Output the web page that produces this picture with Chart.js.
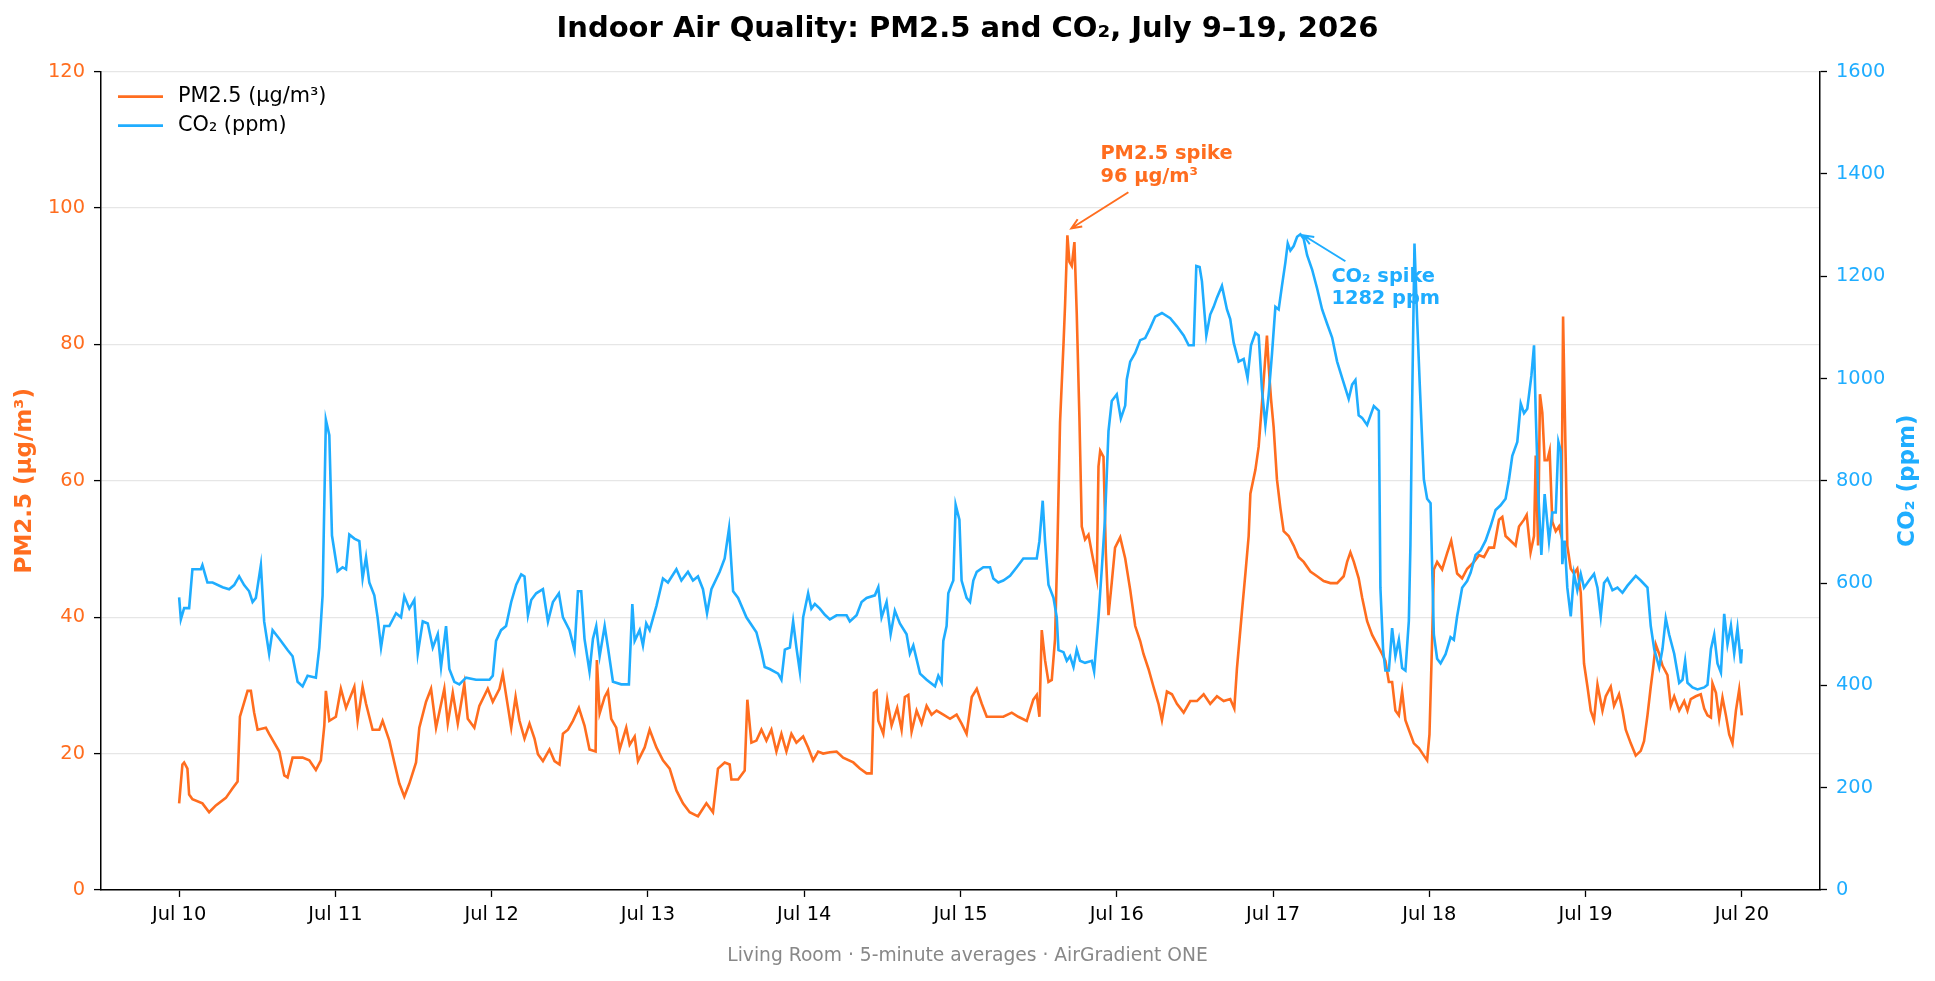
<!DOCTYPE html>
<html>
<head>
<meta charset="utf-8">
<script src="https://cdn.jsdelivr.net/npm/chart.js@4.4.1/dist/chart.umd.min.js"></script>
<style>
  html, body { margin: 0; padding: 0; background: #fff; }
  #c { display: block; }
</style>
</head>
<body>
<canvas id="c" width="1935" height="981" style="width:1935px;height:981px"></canvas>
<script>
// time in days since Jul 10 00:00, 5-minute data
const pmDays = [
  0, 0.021, 0.032, 0.053, 0.064, 0.085, 0.149, 0.192, 0.235, 0.299, 0.342, 0.374, 0.389, 0.438, 0.459, 0.480, 0.502, 0.555, 0.576, 0.641, 0.673, 0.694, 0.726, 0.790, 0.833, 0.875, 0.907, 0.929, 0.939, 0.961,
  1.003, 1.035, 1.068, 1.121, 1.142, 1.174, 1.196, 1.238, 1.281, 1.302, 1.345, 1.377, 1.409, 1.441, 1.473, 1.516, 1.537, 1.580, 1.612, 1.644, 1.697, 1.719, 1.751, 1.783, 1.825, 1.847, 1.889, 1.921, 1.975,
  2.007, 2.050, 2.071, 2.092, 2.125, 2.153, 2.178, 2.210, 2.242, 2.274, 2.296, 2.328, 2.370, 2.402, 2.434, 2.456, 2.488, 2.520, 2.558, 2.594, 2.626, 2.665, 2.673, 2.691, 2.723, 2.744, 2.765, 2.797, 2.819, 2.861, 2.883, 2.915, 2.936, 2.979,
  3.011, 3.054, 3.096, 3.139, 3.182, 3.224, 3.267, 3.320, 3.374, 3.416, 3.448, 3.491, 3.523, 3.534, 3.577, 3.619, 3.636, 3.662, 3.694, 3.726, 3.758, 3.790, 3.822, 3.854, 3.886, 3.918, 3.950, 3.993,
  4.025, 4.057, 4.089, 4.121, 4.164, 4.207, 4.249, 4.314, 4.356, 4.399, 4.431, 4.446, 4.463, 4.474, 4.506, 4.531, 4.559, 4.595, 4.623, 4.644, 4.666, 4.687, 4.719, 4.751, 4.783, 4.815, 4.847, 4.890, 4.933, 4.975,
  5.007, 5.039, 5.072, 5.104, 5.136, 5.168, 5.210, 5.274, 5.328, 5.370, 5.424, 5.466, 5.488, 5.505, 5.520, 5.541, 5.563, 5.584, 5.605, 5.620, 5.637, 5.659, 5.669, 5.684, 5.697, 5.712, 5.729, 5.744, 5.761, 5.776, 5.797, 5.819, 5.840, 5.872, 5.883, 5.894, 5.915, 5.930, 5.947, 5.968, 5.989,
  6.022, 6.054, 6.086, 6.118, 6.150, 6.171, 6.203, 6.235, 6.267, 6.289, 6.321, 6.353, 6.385, 6.428, 6.470, 6.513, 6.556, 6.598, 6.641, 6.684, 6.726, 6.752, 6.769, 6.801, 6.823, 6.844, 6.855, 6.887, 6.908, 6.929, 6.951, 6.961, 6.972, 6.987,
  7.004, 7.025, 7.047, 7.068, 7.100, 7.132, 7.164, 7.196, 7.239, 7.282, 7.324, 7.367, 7.410, 7.452, 7.474, 7.495, 7.517, 7.548, 7.570, 7.602, 7.634, 7.666, 7.698, 7.719, 7.741, 7.762, 7.783, 7.805, 7.826, 7.847, 7.869, 7.901, 7.933, 7.965, 7.986,
  8.001, 8.018, 8.029, 8.050, 8.082, 8.114, 8.140, 8.157, 8.178, 8.210, 8.242, 8.286, 8.318, 8.350, 8.382, 8.414, 8.446, 8.467, 8.488, 8.520, 8.552, 8.574, 8.606, 8.623, 8.648, 8.670, 8.681, 8.696, 8.708, 8.723, 8.738, 8.755, 8.770, 8.787, 8.809, 8.830, 8.845, 8.856, 8.866, 8.883, 8.905, 8.926, 8.947, 8.969, 8.990,
  9.012, 9.033, 9.054, 9.076, 9.108, 9.129, 9.161, 9.182, 9.214, 9.236, 9.257, 9.289, 9.321, 9.353, 9.374, 9.396, 9.417, 9.432, 9.449, 9.471, 9.492, 9.524, 9.545, 9.567, 9.599, 9.631, 9.652, 9.673, 9.705, 9.737, 9.759, 9.780, 9.802, 9.812, 9.834, 9.855, 9.876, 9.898, 9.919, 9.940, 9.962, 9.983, 10.0
];
const pmValues = [
  12.7, 18.4, 18.7, 17.8, 14.0, 13.3, 12.7, 11.4, 12.4, 13.5, 14.9, 15.9, 25.4, 29.2, 29.2, 26.0, 23.5, 23.8, 22.9, 20.3, 16.8, 16.5, 19.4, 19.4, 19.0, 17.6, 19.0, 24.1, 29.2, 24.8,
  25.4, 29.5, 26.7, 29.8, 24.8, 29.8, 27.3, 23.5, 23.5, 24.8, 21.9, 18.7, 15.6, 13.7, 15.6, 18.7, 23.8, 27.6, 29.5, 23.8, 29.5, 24.4, 28.9, 24.4, 30.2, 25.1, 23.8, 27.0, 29.5,
  27.6, 29.5, 31.7, 28.6, 23.8, 28.3, 24.8, 22.2, 24.4, 22.2, 19.9, 18.9, 20.6, 18.9, 18.4, 22.9, 23.5, 24.8, 26.7, 24.1, 20.6, 20.3, 33.7, 25.9, 28.3, 29.2, 25.1, 23.8, 20.6, 23.8, 21.3, 22.5, 18.9, 20.9,
  23.5, 20.9, 19.0, 17.8, 14.6, 12.7, 11.4, 10.8, 12.7, 11.4, 17.8, 18.7, 18.4, 16.2, 16.2, 17.5, 27.9, 21.6, 21.9, 23.5, 21.9, 23.5, 20.3, 22.9, 20.3, 22.9, 21.6, 22.5,
  20.9, 19.0, 20.3, 20.0, 20.2, 20.3, 19.4, 18.7, 17.8, 17.1, 17.1, 28.9, 29.2, 24.8, 22.9, 27.9, 24.1, 26.7, 23.5, 28.3, 28.6, 23.2, 26.3, 24.4, 27.0, 25.7, 26.3, 25.7, 25.1, 25.7,
  24.4, 22.9, 28.3, 29.5, 27.3, 25.4, 25.4, 25.4, 26.0, 25.4, 24.8, 27.9, 28.6, 25.4, 38.1, 33.7, 30.5, 30.8, 36.8, 50.2, 68.6, 80.0, 85.7, 96.0, 92.1, 91.5, 95.0, 84.4, 69.2, 53.3, 51.4, 52.1, 49.5, 45.7, 62.1, 64.4, 63.5, 49.5, 40.3, 45.1, 50.2,
  51.7, 48.6, 44.0, 38.7, 36.5, 34.6, 32.4, 29.8, 27.3, 24.9, 29.1, 28.7, 27.3, 26.0, 27.7, 27.7, 28.7, 27.3, 28.4, 27.7, 28.0, 26.6, 32.5, 40.8, 46.4, 51.9, 58.1, 61.6, 65.0, 71.3, 78.2, 81.3, 76.8, 72.0,
  67.8, 60.2, 56.0, 52.6, 51.9, 50.5, 48.8, 48.1, 46.7, 46.0, 45.3, 45.0, 45.0, 46.0, 48.1, 49.5, 48.1, 45.7, 42.9, 39.4, 37.4, 36.0, 34.6, 33.6, 30.5, 30.5, 26.3, 25.6, 29.1, 24.9, 23.5, 21.5, 20.8, 19.7, 19.0,
  22.8, 36.7, 47.0, 48.1, 47.0, 49.4, 51.2, 49.1, 46.4, 45.7, 47.1, 48.1, 49.1, 48.8, 50.2, 50.2, 54.3, 54.7, 51.9, 51.2, 50.5, 53.3, 54.3, 55.0, 49.5, 51.9, 63.7, 50.5, 72.7, 70.0, 63.0, 63.0, 64.4, 54.0, 52.6, 53.3, 51.9, 84.1, 71.3, 50.5, 47.1, 46.4, 47.1, 43.6, 33.2,
  29.8, 26.3, 24.9, 30.1, 26.3, 28.4, 29.8, 27.0, 28.7, 26.3, 23.5, 21.5, 19.7, 20.4, 21.8, 25.6, 29.8, 32.5, 36.0, 34.6, 32.9, 31.5, 27.0, 28.4, 26.3, 27.7, 26.3, 28.0, 28.4, 28.7, 26.6, 25.6, 25.3, 30.3, 28.9, 25.1, 28.2, 25.6, 22.8, 21.5, 26.3, 29.4, 25.6
];

const co2Days = [
  0, 0.011, 0.032, 0.064, 0.085, 0.139, 0.149, 0.181, 0.214, 0.278, 0.320, 0.352, 0.384, 0.416, 0.448, 0.470, 0.491, 0.523, 0.544, 0.576, 0.598, 0.641, 0.694, 0.726, 0.758, 0.790, 0.822, 0.875, 0.897, 0.918, 0.939, 0.961, 0.978,
  1.003, 1.014, 1.046, 1.068, 1.089, 1.121, 1.153, 1.174, 1.196, 1.217, 1.249, 1.270, 1.292, 1.313, 1.345, 1.388, 1.420, 1.441, 1.473, 1.505, 1.527, 1.559, 1.591, 1.623, 1.655, 1.676, 1.708, 1.729, 1.761, 1.793, 1.836, 1.900, 1.986,
  2.007, 2.028, 2.060, 2.092, 2.125, 2.157, 2.189, 2.210, 2.232, 2.253, 2.285, 2.328, 2.360, 2.392, 2.430, 2.456, 2.498, 2.530, 2.552, 2.573, 2.594, 2.626, 2.648, 2.669, 2.691, 2.723, 2.744, 2.776, 2.829, 2.878, 2.900, 2.915, 2.947, 2.968, 2.989,
  3.011, 3.054, 3.096, 3.128, 3.182, 3.214, 3.256, 3.288, 3.320, 3.352, 3.378, 3.406, 3.459, 3.491, 3.519, 3.545, 3.577, 3.630, 3.694, 3.726, 3.747, 3.779, 3.833, 3.854, 3.876, 3.908, 3.929, 3.950, 3.972, 3.993,
  4.025, 4.046, 4.068, 4.100, 4.132, 4.164, 4.207, 4.271, 4.292, 4.335, 4.367, 4.399, 4.452, 4.474, 4.495, 4.527, 4.553, 4.580, 4.612, 4.655, 4.676, 4.698, 4.741, 4.783, 4.837, 4.858, 4.879, 4.890, 4.911, 4.922, 4.943, 4.954, 4.969, 4.993,
  5.007, 5.039, 5.061, 5.082, 5.104, 5.146, 5.189, 5.210, 5.242, 5.274, 5.317, 5.360, 5.402, 5.445, 5.488, 5.505, 5.526, 5.541, 5.563, 5.595, 5.616, 5.627, 5.659, 5.680, 5.701, 5.723, 5.744, 5.765, 5.797, 5.840, 5.855, 5.883, 5.904, 5.925, 5.947, 5.968,
  6.000, 6.026, 6.054, 6.064, 6.086, 6.118, 6.150, 6.182, 6.214, 6.246, 6.289, 6.342, 6.385, 6.428, 6.460, 6.492, 6.509, 6.530, 6.545, 6.573, 6.598, 6.620, 6.641, 6.673, 6.705, 6.726, 6.748, 6.780, 6.812, 6.837, 6.859, 6.887, 6.908, 6.929, 6.951, 6.972, 6.993,
  7.015, 7.036, 7.057, 7.079, 7.094, 7.111, 7.132, 7.154, 7.175, 7.196, 7.218, 7.250, 7.282, 7.314, 7.346, 7.378, 7.410, 7.442, 7.484, 7.506, 7.527, 7.548, 7.570, 7.602, 7.645, 7.677, 7.687, 7.704, 7.719, 7.741, 7.762, 7.783, 7.805, 7.826, 7.847, 7.869, 7.879, 7.890, 7.905, 7.922, 7.939, 7.965, 7.986,
  8.008, 8.029, 8.050, 8.072, 8.104, 8.136, 8.157, 8.178, 8.210, 8.242, 8.264, 8.296, 8.328, 8.360, 8.392, 8.424, 8.456, 8.488, 8.510, 8.531, 8.563, 8.585, 8.606, 8.627, 8.653, 8.670, 8.681, 8.696, 8.717, 8.738, 8.766, 8.787, 8.809, 8.826, 8.841, 8.851, 8.866, 8.883, 8.905, 8.926, 8.947, 8.969, 8.990,
  9.022, 9.054, 9.076, 9.097, 9.118, 9.140, 9.172, 9.204, 9.236, 9.268, 9.321, 9.353, 9.396, 9.417, 9.439, 9.471, 9.492, 9.513, 9.535, 9.567, 9.599, 9.620, 9.637, 9.652, 9.684, 9.716, 9.759, 9.780, 9.802, 9.823, 9.844, 9.866, 9.887, 9.908, 9.930, 9.951, 9.972, 9.994, 10.0
];
const co2Values = [
  572, 529, 551, 551, 627, 627, 635, 601, 601, 592, 588, 596, 613, 596, 584, 563, 571, 635, 525, 462, 508, 491, 469, 457, 407, 398, 419, 415, 474, 576, 919, 889, 693,
  644, 623, 631, 627, 695, 687, 682, 609, 651, 601, 576, 533, 474, 516, 516, 541, 533, 574, 550, 567, 462, 525, 521, 474, 500, 436, 516, 432, 407, 402, 415, 411, 411,
  419, 487, 508, 516, 563, 597, 617, 613, 537, 567, 580, 588, 525, 563, 580, 533, 508, 469, 584, 584, 491, 427, 491, 516, 457, 516, 474, 407, 402, 402, 559, 487, 508, 478, 521,
  508, 555, 609, 601, 627, 605, 622, 605, 613, 588, 541, 588, 622, 648, 707, 584, 571, 533, 504, 466, 436, 432, 423, 411, 470, 474, 525, 474, 427, 533,
  580, 550, 559, 550, 538, 529, 537, 537, 525, 537, 563, 571, 576, 592, 533, 563, 500, 546, 521, 500, 462, 478, 423, 411, 398, 419, 406, 487, 516, 580, 597, 605, 753, 724,
  605, 571, 563, 605, 622, 631, 631, 609, 601, 605, 614, 631, 648, 648, 648, 682, 761, 682, 597, 571, 533, 469, 465, 448, 457, 436, 470, 448, 444, 448, 427, 533, 627, 728, 897, 956,
  969, 922, 947, 998, 1033, 1050, 1075, 1079, 1099, 1121, 1128, 1118, 1102, 1084, 1065, 1065, 1220, 1218, 1190, 1084, 1125, 1140, 1158, 1181, 1135, 1116, 1070, 1033, 1038, 1001, 1065, 1089, 1084, 978, 909, 968, 1047,
  1140, 1135, 1181, 1227, 1264, 1250, 1259, 1277, 1282, 1273, 1241, 1213, 1176, 1135, 1107, 1080, 1033, 1001, 960, 988, 997, 928, 923, 909, 946, 937, 591, 471, 429, 429, 512, 457, 489, 434, 429, 526, 673, 951, 1264, 1116, 987, 803, 765,
  756, 499, 452, 443, 461, 494, 489, 535, 591, 604, 620, 655, 664, 683, 711, 743, 752, 765, 803, 849, 876, 951, 932, 941, 1005, 1065, 932, 784, 655, 774, 682, 738, 738, 876, 858, 637, 683, 591, 535, 618, 586, 618, 591,
  605, 618, 591, 535, 600, 609, 586, 591, 581, 595, 614, 605, 591, 516, 471, 435, 471, 531, 499, 462, 405, 411, 448, 405, 396, 392, 396, 401, 471, 499, 443, 425, 540, 480, 517, 462, 512, 443, 471
];

const tickDays = [0, 1, 2, 3, 4, 5, 6, 7, 8, 9, 10];
const tickLabels = ['Jul 10', 'Jul 11', 'Jul 12', 'Jul 13', 'Jul 14', 'Jul 15', 'Jul 16', 'Jul 17', 'Jul 18', 'Jul 19', 'Jul 20'];

const pmPeak = { day: 5.684, value: 96 };
const co2Peak = { day: 7.175, value: 1282 };

const ORANGE = '#ff6d1f';
const BLUE = '#1fadff';
const FONT = "'DejaVu Sans', sans-serif";

function arrow(ctx, x0, y0, x1, y1, color) {
  const a = Math.atan2(y1 - y0, x1 - x0);
  ctx.strokeStyle = color;
  ctx.lineWidth = 2;
  ctx.beginPath();
  ctx.moveTo(x0, y0);
  ctx.lineTo(x1, y1);
  ctx.moveTo(x1 - 11 * Math.cos(a - 0.4), y1 - 11 * Math.sin(a - 0.4));
  ctx.lineTo(x1, y1);
  ctx.lineTo(x1 - 11 * Math.cos(a + 0.4), y1 - 11 * Math.sin(a + 0.4));
  ctx.stroke();
}

// legend, annotations and right axis title
const overlay = {
  id: 'overlay',
  afterDraw(chart) {
    const { ctx, chartArea, scales } = chart;
    ctx.save();

    // legend in the upper left corner
    const items = [['PM2.5 (µg/m³)', ORANGE], ['CO₂ (ppm)', BLUE]];
    ctx.font = '20.8px ' + FONT;
    ctx.textBaseline = 'middle';
    ctx.textAlign = 'left';
    items.forEach(([label, color], i) => {
      const y = chartArea.top + 25 + i * 29;
      ctx.strokeStyle = color;
      ctx.lineWidth = 2.6;
      ctx.beginPath();
      ctx.moveTo(chartArea.left + 17, y);
      ctx.lineTo(chartArea.left + 62, y);
      ctx.stroke();
      ctx.fillStyle = '#000';
      ctx.fillText(label, chartArea.left + 77, y);
    });

    // PM2.5 spike
    let px = scales.x.getPixelForValue(pmPeak.day);
    let py = scales.y.getPixelForValue(pmPeak.value);
    ctx.font = 'bold 19.4px ' + FONT;
    ctx.fillStyle = ORANGE;
    ctx.fillText('PM2.5 spike', px + 33, py - 81);
    ctx.fillText('96 µg/m³', px + 33, py - 58);
    arrow(ctx, px + 61, py - 43, px + 4, py - 7, ORANGE);

    // CO2 spike
    px = scales.x.getPixelForValue(co2Peak.day);
    py = scales.y2.getPixelForValue(co2Peak.value);
    ctx.fillStyle = BLUE;
    ctx.fillText('CO₂ spike', px + 31, py + 43);
    ctx.fillText('1282 ppm', px + 31, py + 65);
    arrow(ctx, px + 45, py + 27, px + 3, py + 1, BLUE);

    // right axis title, reading bottom to top
    ctx.save();
    ctx.translate(1908, (chartArea.top + chartArea.bottom) / 2);
    ctx.rotate(-Math.PI / 2);
    ctx.textAlign = 'center';
    ctx.font = 'bold 23px ' + FONT;
    ctx.fillStyle = BLUE;
    ctx.fillText('CO₂ (ppm)', 0, 0);
    ctx.restore();

    ctx.restore();
  }
};

new Chart(document.getElementById('c'), {
  type: 'line',
  data: {
    datasets: [
      {
        label: 'CO₂ (ppm)',
        data: co2Days.map((d, i) => ({ x: d, y: co2Values[i] })),
        yAxisID: 'y2',
        borderColor: BLUE,
        borderWidth: 2.6,
        pointRadius: 0,
        tension: 0
      },
      {
        label: 'PM2.5 (µg/m³)',
        data: pmDays.map((d, i) => ({ x: d, y: pmValues[i] })),
        yAxisID: 'y',
        borderColor: ORANGE,
        borderWidth: 2.6,
        pointRadius: 0,
        tension: 0
      }
    ]
  },
  options: {
    responsive: false,
    devicePixelRatio: 1,
    animation: false,
    layout: { padding: 0 },
    plugins: {
      legend: { display: false },
      tooltip: { enabled: false },
      title: {
        display: true,
        text: 'Indoor Air Quality: PM2.5 and CO₂, July 9–19, 2026',
        color: '#000',
        font: { family: FONT, size: 29, weight: 'bold' },
        padding: { top: 12, bottom: 24.8 }
      },
      subtitle: {
        display: true,
        position: 'bottom',
        text: 'Living Room · 5-minute averages · AirGradient ONE',
        color: '#888',
        font: { family: FONT, size: 18.7 },
        padding: { top: 19, bottom: 13.6 }
      }
    },
    scales: {
      x: {
        type: 'linear',
        min: -0.5,
        max: 10.5,
        afterFit: s => { s.height = 36; },
        afterBuildTicks: s => { s.ticks = tickDays.map(v => ({ value: v })); },
        ticks: {
          color: '#000',
          font: { family: FONT, size: 19.4 },
          padding: 6,
          maxRotation: 0,
          callback: (v) => tickLabels[tickDays.indexOf(v)]
        },
        grid: { drawOnChartArea: false, tickColor: '#000', tickLength: 7, tickWidth: 1.3 },
        border: { color: '#000', width: 1.5 }
      },
      y: {
        position: 'left',
        min: 0,
        max: 120,
        afterFit: s => { s.width = 101; },
        ticks: { stepSize: 20, color: ORANGE, font: { family: FONT, size: 19.4 }, padding: 9, callback: v => String(v) },
        grid: { color: '#e6e6e6', lineWidth: 1.2, tickColor: '#000', tickLength: 7, tickWidth: 1.3 },
        border: { color: '#000', width: 1.5 },
        title: {
          display: true,
          text: 'PM2.5 (µg/m³)',
          color: ORANGE,
          font: { family: FONT, size: 23, weight: 'bold' },
          padding: { top: 11, bottom: 0 }
        }
      },
      y2: {
        position: 'right',
        min: 0,
        max: 1600,
        afterFit: s => { s.width = 115; },
        ticks: { stepSize: 200, color: BLUE, font: { family: FONT, size: 19.4 }, padding: 9, callback: v => String(v) },
        grid: { drawOnChartArea: false, tickColor: '#000', tickLength: 7, tickWidth: 1.3 },
        border: { color: '#000', width: 1.5 }
      }
    }
  },
  plugins: [overlay]
});
</script>
</body>
</html>
